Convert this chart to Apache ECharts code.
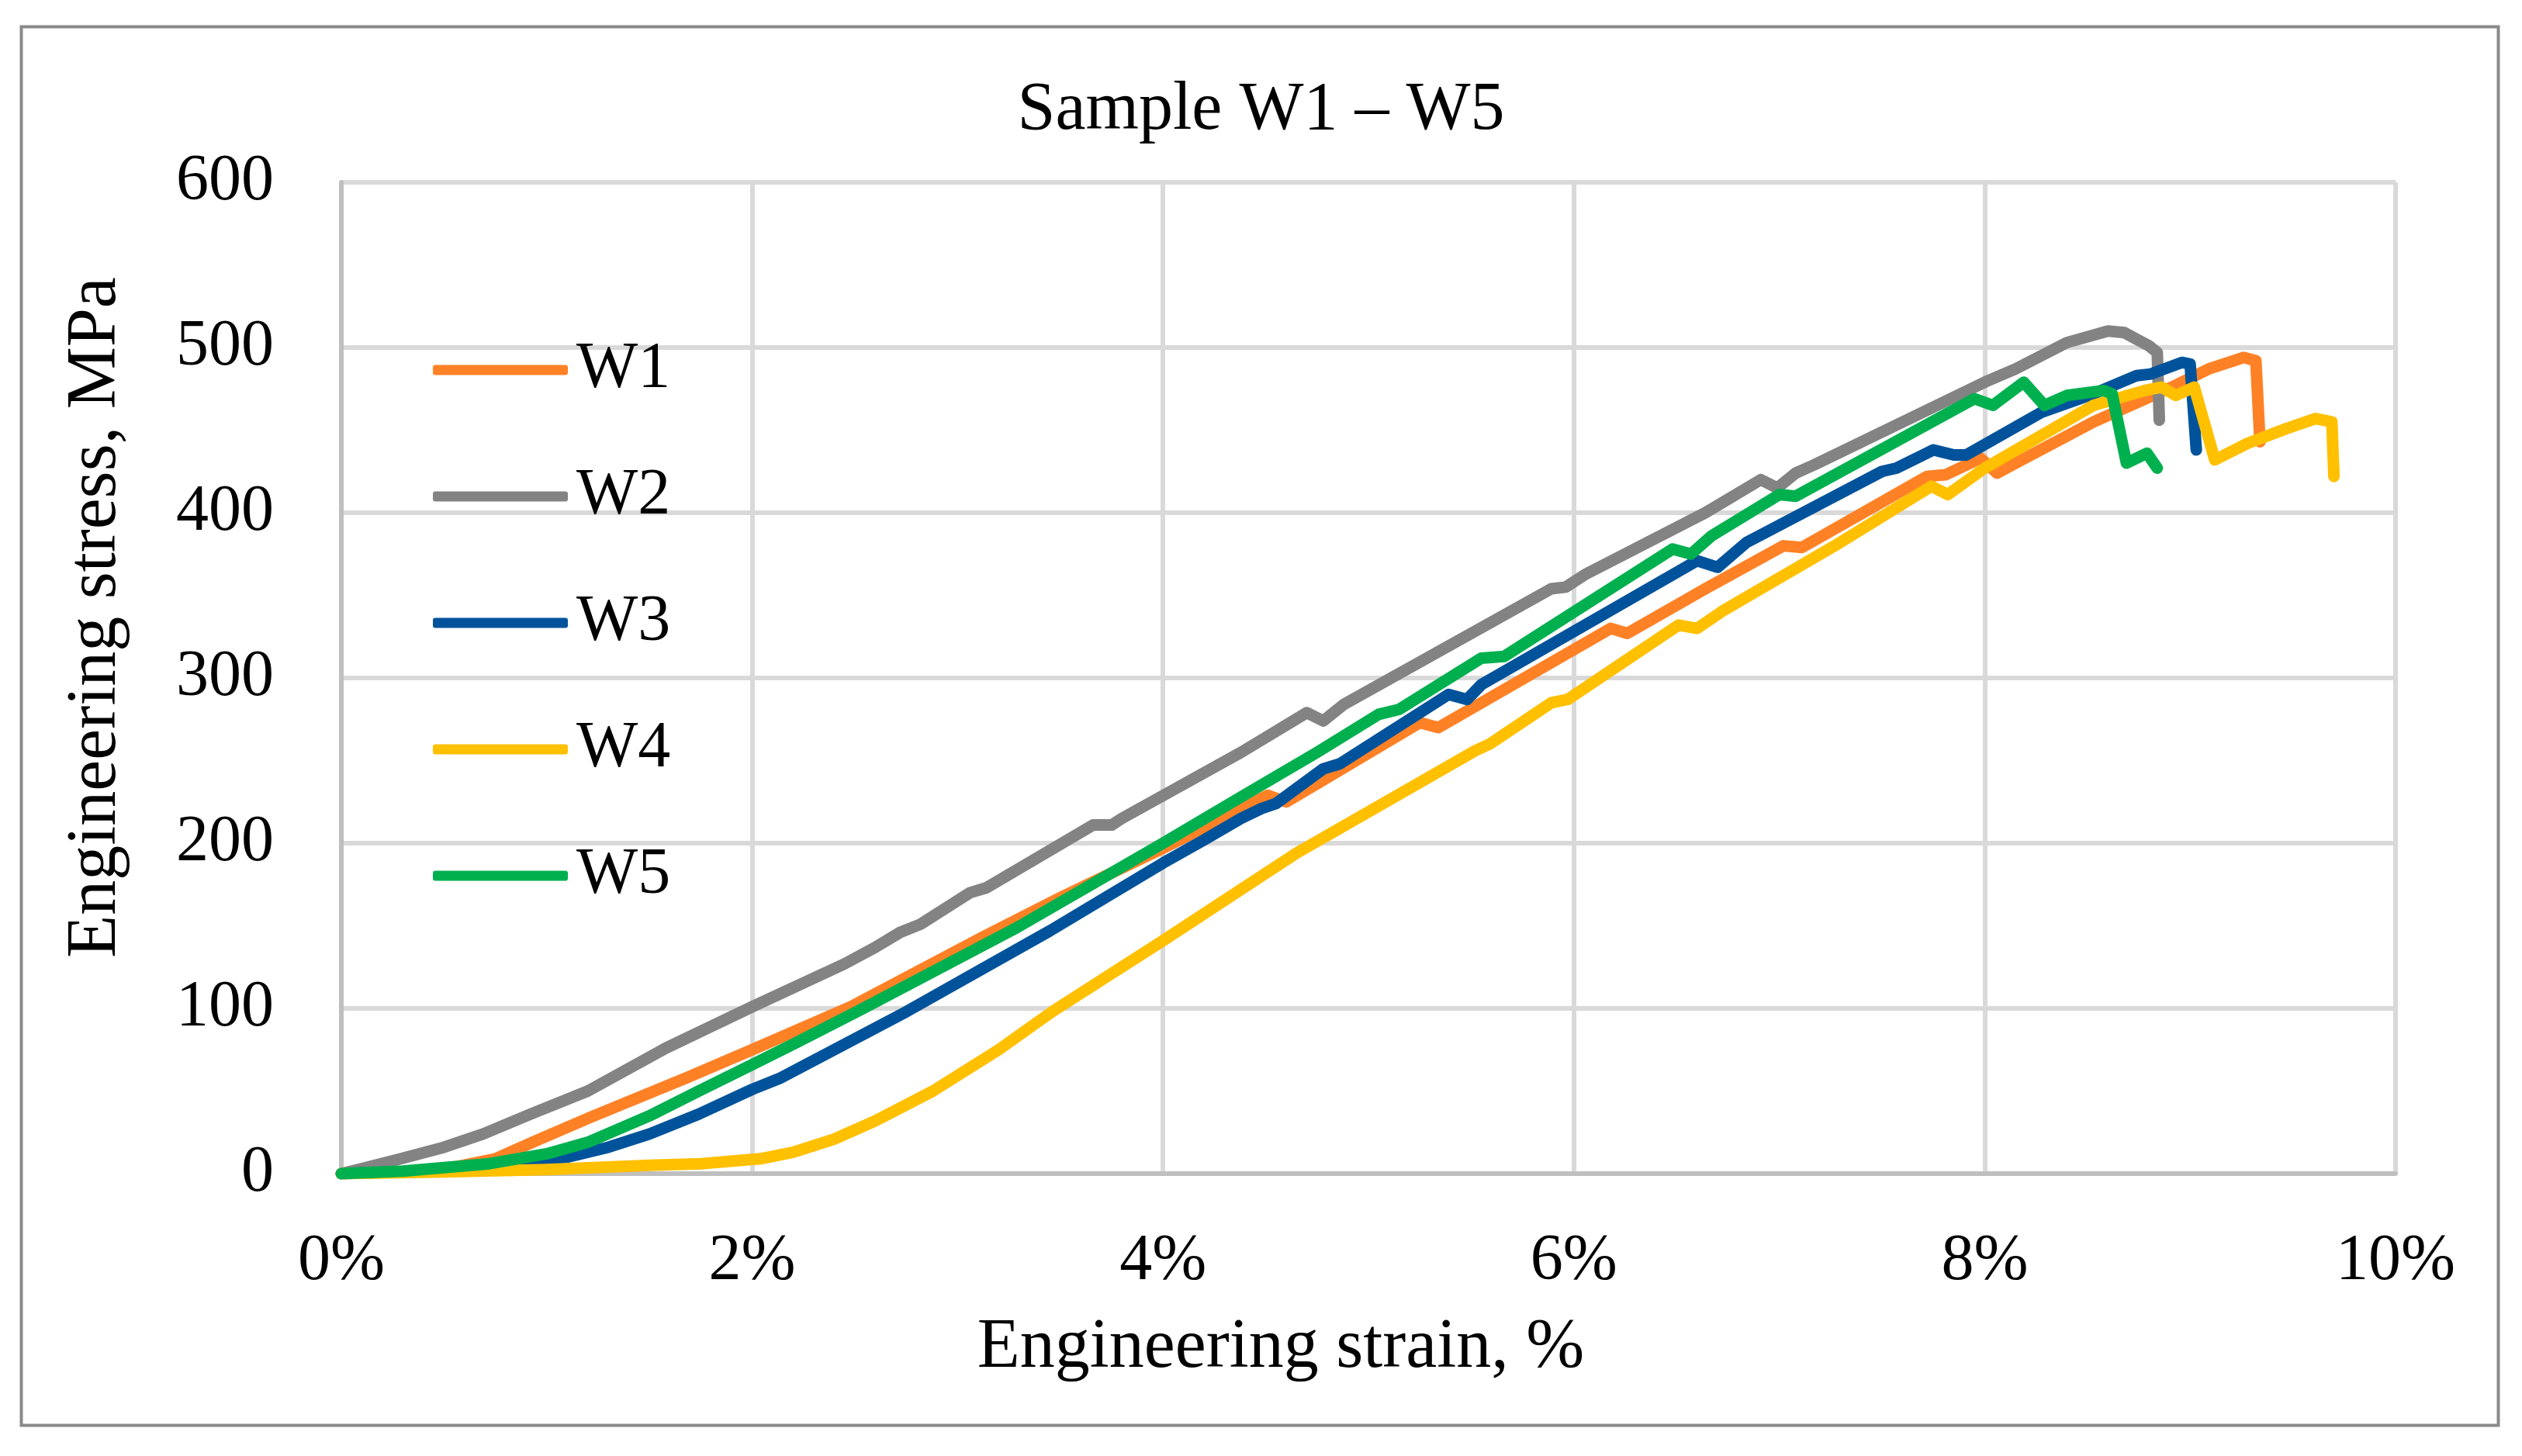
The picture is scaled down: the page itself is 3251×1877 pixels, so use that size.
<!DOCTYPE html>
<html>
<head>
<meta charset="utf-8">
<script src="https://cdn.jsdelivr.net/npm/echarts@6/dist/echarts.min.js"></script>
<style>
html,body{margin:0;padding:0;background:#ffffff;}
#chart{width:3251px;height:1877px;}
</style>
</head>
<body>
<div id="chart"></div>
<script>
// ---- data (strain in %, stress in MPa) ----
const chartTitle = 'Sample W1 – W5';
const xAxisTitle = 'Engineering strain, %';
const yAxisTitle = 'Engineering stress, MPa';
const seriesNames = ['W1', 'W2', 'W3', 'W4', 'W5'];
const seriesColors = ['#FF8126', '#838383', '#00539B', '#FFC000', '#00B04F'];
const xTicks = [0, 2, 4, 6, 8, 10];
const yTicks = [0, 100, 200, 300, 400, 500, 600];

const W1 = [[0,0],[0.3,1],[0.55,4],[0.75,9],[0.93,19],[1.21,34],[1.68,58],[2.0,75],[2.48,101],[3.12,143],[3.5,167],[4.0,197],[4.51,229],[4.60,225],[4.75,236],[5.25,273],[5.34,270],[6.18,330],[6.26,327],[6.64,354],[7.02,380],[7.11,379],[7.72,422],[7.81,423],[7.98,433],[8.06,424],[8.15,430],[8.53,455],[8.91,476],[9.09,487],[9.26,494],[9.32,492],[9.34,443]];
const W2 = [[0,0],[0.1,3],[0.29,9],[0.5,16],[0.69,24],[0.92,36],[1.2,50],[1.58,76],[2.0,101],[2.45,127],[2.60,137],[2.72,146],[2.82,151],[3.06,170],[3.14,173],[3.66,211],[3.75,211],[3.80,215],[4.38,255],[4.70,279],[4.78,274],[4.88,284],[5.89,354],[5.96,355],[6.06,363],[6.64,400],[6.91,420],[6.99,415],[7.08,424],[7.17,429],[8.0,479],[8.15,487],[8.40,503],[8.60,510],[8.68,509],[8.80,501],[8.84,497],[8.85,456]];
const W3 = [[0,0],[0.5,2],[0.85,5],[1.1,10],[1.3,16],[1.5,24],[1.74,36],[2.0,51],[2.14,58],[2.75,98],[3.45,147],[4.0,188],[4.2,202],[4.38,215],[4.48,221],[4.55,224],[4.78,245],[4.86,248],[5.39,290],[5.48,287],[5.55,296],[6.60,371],[6.70,367],[6.84,382],[7.50,425],[7.57,427],[7.75,438],[7.85,435],[7.91,435],[8.28,461],[8.53,472],[8.74,483],[8.81,484],[8.96,491],[9.00,490],[9.03,438]];
const W4 = [[0,0],[0.5,1],[1.0,2.5],[1.5,5],[1.75,6],[2.04,9],[2.2,13],[2.4,21],[2.6,32],[2.88,50],[3.2,75],[3.46,98],[4.0,141],[4.65,194],[5.52,256],[5.59,260],[5.89,285],[5.97,287],[6.51,332],[6.60,330],[6.73,341],[7.27,380],[7.74,416],[7.82,411],[8.0,427],[8.53,465],[8.78,474],[8.86,476],[8.93,471],[9.02,476],[9.12,432],[9.28,442],[9.47,451],[9.61,457],[9.69,455],[9.70,422]];
const W5 = [[0,0],[0.3,1.5],[0.72,6],[1.0,12],[1.2,19],[1.5,35],[1.74,50],[2.0,66],[2.21,79],[2.54,100],[3.29,149],[4.0,200],[4.38,228],[4.75,255],[5.05,278],[5.15,281],[5.55,312],[5.66,313],[6.48,378],[6.57,375],[6.67,386],[7.0,411],[7.08,410],[7.95,469],[8.04,465],[8.19,479],[8.29,465],[8.40,471],[8.58,474],[8.62,472],[8.69,430],[8.79,436],[8.84,427]];
const seriesData = [W1, W2, W3, W4, W5];

// ---- chart ----
const FONT = "'Liberation Serif', 'DejaVu Serif', serif";
const chart = echarts.init(document.getElementById('chart'));

const option = {
  animation: false,
  backgroundColor: '#ffffff',
  textStyle: { fontFamily: FONT, color: '#000000' },
  title: {
    text: chartTitle,
    left: 'center',
    top: 94,
    textStyle: { fontFamily: FONT, fontSize: 88, fontWeight: 'normal', color: '#000000' }
  },
  legend: {
    orient: 'vertical',
    left: 553,
    top: 430,
    itemWidth: 174,
    itemHeight: 13,
    itemGap: 79,
    icon: 'roundRect',
    data: seriesNames,
    textStyle: { fontFamily: FONT, fontSize: 84, color: '#000000', padding: [0, 0, 0, 6] }
  },
  grid: { left: 440, right: 163, top: 235, bottom: 364, containLabel: false },
  xAxis: {
    type: 'value',
    min: xTicks[0],
    max: xTicks[xTicks.length - 1],
    interval: xTicks[1] - xTicks[0],
    axisLine: { show: true, lineStyle: { color: '#bfbfbf', width: 6 } },
    axisTick: { show: false },
    axisLabel: { margin: 72, fontSize: 84, fontFamily: FONT, color: '#000000', formatter: v => v + '%' },
    splitLine: { show: true, lineStyle: { color: '#d9d9d9', width: 6 } }
  },
  yAxis: {
    type: 'value',
    min: yTicks[0],
    max: yTicks[yTicks.length - 1],
    interval: yTicks[1] - yTicks[0],
    axisLine: { show: true, lineStyle: { color: '#bfbfbf', width: 6 } },
    axisTick: { show: false },
    axisLabel: { margin: 87, fontSize: 84, fontFamily: FONT, color: '#000000' },
    splitLine: { show: true, lineStyle: { color: '#d9d9d9', width: 6 } }
  },
  series: seriesNames.map((name, i) => ({
    name: name,
    type: 'line',
    data: seriesData[i],
    showSymbol: false,
    symbol: 'none',
    itemStyle: { color: seriesColors[i] },
    lineStyle: { color: seriesColors[i], width: 15, cap: 'round', join: 'round' },
    emphasis: { disabled: true }
  })),
  graphic: [
    {
      type: 'rect',
      left: 25, top: 32,
      shape: { width: 3193, height: 1803 },
      style: { fill: 'none', stroke: '#8a8a8a', lineWidth: 4 },
      silent: true
    },
    {
      type: 'text',
      x: 124, y: 796,
      rotation: Math.PI / 2,
      style: { text: yAxisTitle, fontFamily: FONT, fontSize: 90, fill: '#000000', align: 'center', verticalAlign: 'middle' },
      silent: true
    },
    {
      type: 'text',
      x: 1651, y: 1738,
      style: { text: xAxisTitle, fontFamily: FONT, fontSize: 90, fill: '#000000', align: 'center', verticalAlign: 'middle' },
      silent: true
    }
  ]
};
chart.setOption(option);
</script>
</body>
</html>
